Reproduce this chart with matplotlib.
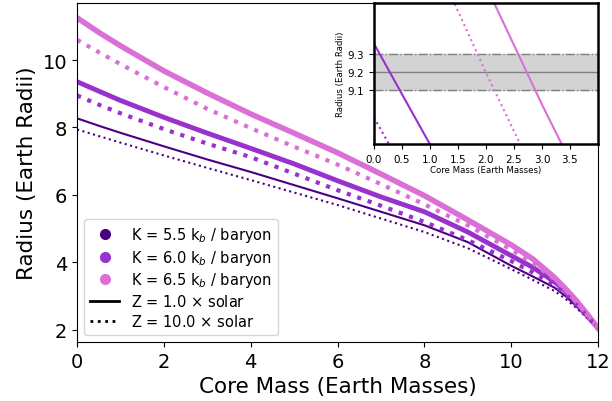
import matplotlib
matplotlib.use("Agg")
import matplotlib.pyplot as plt
from matplotlib.lines import Line2D

# core mass grid (Earth masses)
mass = [0, 0.5, 1, 2, 3, 4, 5, 6, 7, 8, 9, 10, 10.5, 11, 11.25, 11.5, 11.75, 12]

# radius (Earth radii), Z = 1 x solar
r_k55_z1 = [8.27, 8.05, 7.84, 7.44, 7.05, 6.68, 6.29, 5.90, 5.50, 5.10, 4.60, 3.90, 3.58, 3.25, 3.00, 2.70, 2.37, 2.05]
r_k60_z1 = [9.356, 9.077, 8.80, 8.30, 7.83, 7.38, 6.92, 6.42, 5.94, 5.50, 4.90, 4.20, 3.85, 3.42, 3.15, 2.80, 2.42, 2.05]
r_k65_z1 = [11.25, 10.82, 10.42, 9.676, 9.02, 8.40, 7.83, 7.25, 6.62, 5.98, 5.26, 4.52, 4.10, 3.55, 3.22, 2.87, 2.47, 2.05]

# radius (Earth radii), Z = 10 x solar
r_k55_z10 = [7.94, 7.745, 7.55, 7.17, 6.80, 6.44, 6.07, 5.70, 5.30, 4.90, 4.42, 3.80, 3.48, 3.15, 2.92, 2.65, 2.35, 2.05]
r_k60_z10 = [8.948, 8.675, 8.42, 7.95, 7.52, 7.12, 6.63, 6.14, 5.68, 5.20, 4.66, 4.04, 3.70, 3.33, 3.07, 2.75, 2.40, 2.05]
r_k65_z10 = [10.60, 10.23, 9.876, 9.196, 8.55, 7.98, 7.43, 6.90, 6.32, 5.72, 5.10, 4.38, 3.98, 3.50, 3.18, 2.83, 2.44, 2.05]

k_labels = [r"K = 5.5 k$_b$ / baryon", r"K = 6.0 k$_b$ / baryon", r"K = 6.5 k$_b$ / baryon"]
z_labels = [r"Z = 1.0 $\times$ solar", r"Z = 10.0 $\times$ solar"]
colors = ["indigo", "darkorchid", "orchid"]

# observed radius band
r_obs, r_err = 9.2, 0.1

solid = [r_k55_z1, r_k60_z1, r_k65_z1]
dotted = [r_k55_z10, r_k60_z10, r_k65_z10]


def draw(a, lw_solid, lw_dot):
    for r, c, lw in zip(solid, colors, lw_solid):
        a.plot(mass, r, color=c, lw=lw, ls='-')
    for r, c, lw in zip(dotted, colors, lw_dot):
        a.plot(mass, r, color=c, lw=lw, ls=':')


fig = plt.figure(figsize=(6.12, 4.02), dpi=100)
ax = fig.add_axes([0.126, 0.147, 0.851, 0.843])

draw(ax, [1.5, 3.5, 4.0], [1.5, 3.0, 3.0])
ax.set_xlim(0, 12)
ax.set_ylim(1.64, 11.69)
ax.set_xticks([0, 2, 4, 6, 8, 10, 12])
ax.set_yticks([2, 4, 6, 8, 10])
ax.tick_params(labelsize=14)
ax.set_xlabel("Core Mass (Earth Masses)", fontsize=15.5)
ax.set_ylabel("Radius (Earth Radii)", fontsize=15.5)

handles = [Line2D([], [], marker='o', ls='none', color=c, markersize=7) for c in colors]
handles += [Line2D([], [], color='k', lw=2, ls='-'), Line2D([], [], color='k', lw=2, ls=':')]
ax.legend(handles, k_labels + z_labels, loc='lower left', fontsize=10.5, labelspacing=0.25)

# inset zoom near the observed radius
ins = fig.add_axes([0.611, 0.6386, 0.366, 0.3515])
ins.axhspan(r_obs - r_err, r_obs + r_err, color='lightgray', zorder=0)
ins.axhline(r_obs, color='gray', lw=1)
ins.axhline(r_obs - r_err, color='gray', lw=1, ls='-.')
ins.axhline(r_obs + r_err, color='gray', lw=1, ls='-.')
draw(ins, [1.5, 1.5, 1.5], [1.5, 1.5, 1.5])
ins.set_xlim(0, 4)
ins.set_ylim(8.8, 9.58)
ins.set_xticks([0, 0.5, 1.0, 1.5, 2.0, 2.5, 3.0, 3.5])
ins.set_yticks([9.1, 9.2, 9.3])
ins.tick_params(labelsize=7.5)
ins.set_xlabel("Core Mass (Earth Masses)", fontsize=6.2, labelpad=1)
ins.set_ylabel("Radius (Earth Radii)", fontsize=6.2, labelpad=2)
for s in ins.spines.values():
    s.set_linewidth(1.8)
    s.set_color('k')

fig.savefig("out.png", dpi=100)
